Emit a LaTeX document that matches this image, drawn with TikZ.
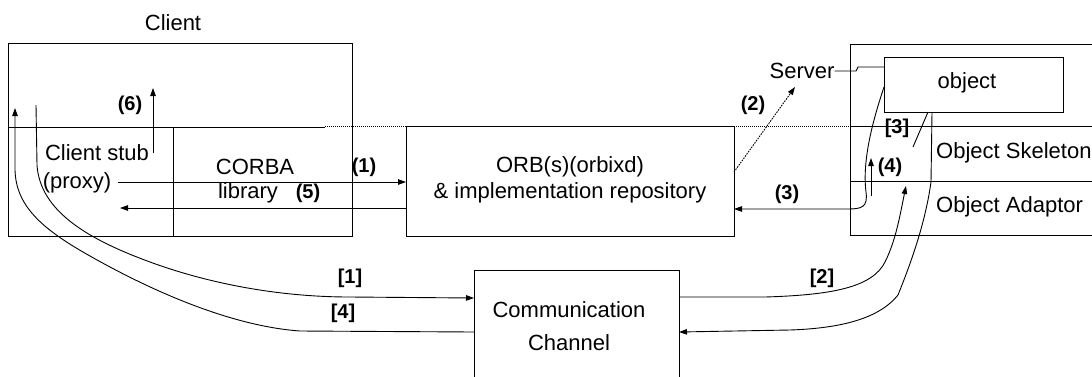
\documentclass[tikz,border=0pt]{standalone}
\usepackage{fontspec}
\setmainfont{Liberation Sans}
\usetikzlibrary{arrows.meta,calc}
\begin{document}
\begin{tikzpicture}[x=1pt,y=-1pt,
  box/.style={draw, line width=1pt, inner sep=0pt, outer sep=0pt},
  txt/.style={font=\fontsize{22}{25}\selectfont, inner sep=0pt},
  lbl/.style={font=\fontsize{20}{23}\selectfont\bfseries, inner sep=0pt},
  part/.style={line width=1pt},
  conn/.style={line width=0.9pt},
  arr/.style={conn, -{Triangle[length=8pt,width=5.5pt]}},
  dotline/.style={line width=1pt, dash pattern=on 1pt off 1pt},
  dotarr/.style={arr, dash pattern=on 1.6pt off 1.1pt}]
\useasboundingbox (0,0) rectangle (1092,376);
\clip (0,0) rectangle (1092,376);
\fill[white] (0,0) rectangle (1092,376);

% boxes
\node[box, minimum width=344pt, minimum height=193pt] (client) at (180,139.5) {};
\node[box, minimum width=328pt, minimum height=110pt] (orb) at (570,181) {};
\node[box, minimum width=260pt, minimum height=191pt] (server) at (980,139.5) {};
\node[box, minimum width=179pt, minimum height=55pt] (obj) at (973.5,84.5) {};
\node[box, minimum width=205pt, minimum height=130pt] (comm) at (576.5,335) {};

% inner partitions
\draw[part] (8,127) -- (325,127);
\draw[part] (173,127) -- (173,236);
\draw[part] (850,126) -- (1092,126);
\draw[part] (850,181) -- (1092,181);
\draw[dotline] (325,126.5) -- (406,126.5);
\draw[dotline] (734,126.5) -- (850,126.5);

% texts
\node[txt] (tclient) at (173,23) {Client};
\node[txt] (tstub) at (97,153) {Client stub};
\node[txt] (tproxy) at (77,183) {(proxy)};
\node[txt] (tcorba) at (255,167) {CORBA};
\node[txt] (tlib) at (248,193) {library};
\node[txt] (torb1) at (570,167) {ORB(s)(orbixd)};
\node[txt] (torb2) at (570,193) {\& implementation repository};
\node[txt] (srv) at (802,71) {Server};
\node[txt] (tobj) at (967,83) {object};
\node[txt, anchor=west] (tskel) at (936,153) {Object Skeleton};
\node[txt, anchor=west] (tadap) at (936,207) {Object Adaptor};
\node[txt] (tcomm1) at (569,310) {Communication};
\node[txt] (tcomm2) at (569,343) {Channel};

% labels
\node[lbl] (l1) at (364,167) {(1)};
\node[lbl] (l5) at (308,193) {(5)};
\node[lbl] (l6) at (130,105) {(6)};
\node[lbl] (l2) at (753,105) {(2)};
\node[lbl] (l3) at (787,194) {(3)};
\node[lbl] (l4) at (890,167) {(4)};
\node[lbl] (m3) at (897,128) {[3]};
\node[lbl] (m1) at (350,278) {[1]};
\node[lbl] (m4) at (343,313) {[4]};
\node[lbl] (m2) at (822,278) {[2]};

% coordinates
\coordinate (p1s) at (118,182);
\coordinate (p5e) at (120,208);
\coordinate (p6s) at (153,153);
\coordinate (p6e) at (153,88);
\coordinate (p2s) at (0,172);
\coordinate (p2e) at (795,87);
\coordinate (r67) at (0,67);
\coordinate (r87) at (0,87);
\coordinate (r209) at (0,209);
\coordinate (p4s) at (871,196);
\coordinate (p4e) at (871,158);
\coordinate (c3a) at (928,0);
\coordinate (c3b) at (913,147);
\coordinate (cret) at (932,0);
\coordinate (k1s) at (36,105);
\coordinate (k4e) at (15,108);
\coordinate (r298) at (0,298);
\coordinate (r332) at (0,332);
\coordinate (r297) at (0,297);
\coordinate (k2e) at (906,186);

% ORB arrows
\draw[arr] (p1s) -- (p1s -| orb.west);
\draw[arr] (p5e -| orb.west) -- (p5e);
\draw[arr] (p6s) -- (p6e);
\draw[dotarr] (orb.east |- p2s) -- (p2e);
\draw[conn] (srv.east) -- (856,71) -- (858,67) -- (obj.west |- r67);
\draw[arr] (obj.west |- r87) .. controls (873,120) and (862,160) .. (866,192)
  .. controls (868,207) and (862,209) .. (848,209) -- (orb.east |- r209);
\draw[arr] (p4s) -- (p4e);
\draw[conn] (obj.south -| c3a) -- (c3b);

% communication channel paths
\draw[arr] (k1s) -- (37,165) .. controls (40,212) and (90,240) .. (150,262)
  .. controls (210,284) and (280,297) .. (350,297) -- (comm.west |- r298);
\draw[arr] (comm.west |- r332) -- (300,331) .. controls (230,326) and (150,290) .. (90,256)
  .. controls (40,228) and (16,205) .. (15,170) -- (k4e);
\draw[arr] (comm.east |- r297) -- (765,297) .. controls (830,295) and (872,288) .. (885,262)
  .. controls (896,240) and (900,215) .. (k2e);
\draw[arr] (obj.south -| cret) -- (931,182) .. controls (925,225) and (910,265) .. (898,295)
  .. controls (882,315) and (850,328) .. (790,330) -- (comm.east |- r332);
\end{tikzpicture}
\end{document}
